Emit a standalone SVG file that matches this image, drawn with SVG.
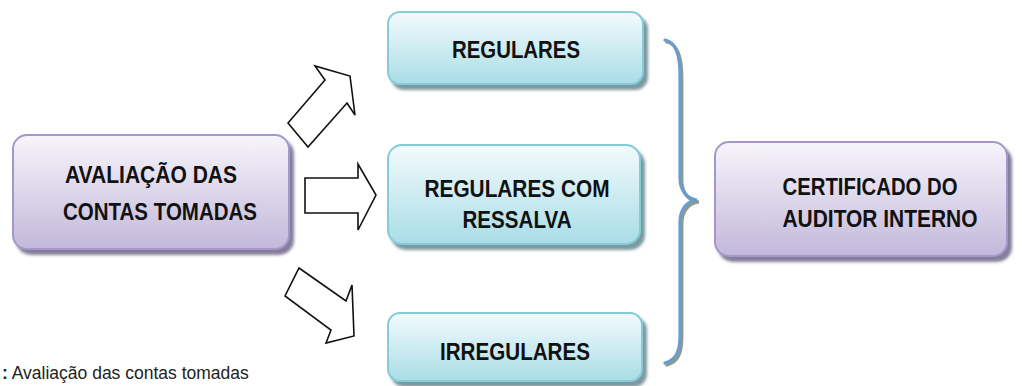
<svg xmlns="http://www.w3.org/2000/svg" width="1022" height="386" viewBox="0 0 1022 386">
<style>
.t{font-family:"Liberation Sans",Arial,sans-serif;font-weight:bold;font-size:24px;fill:#111;text-anchor:middle}
.purple{fill:url(#gp);stroke:#a597cc;stroke-width:2}
.blue{fill:url(#gb);stroke:#86cbd8;stroke-width:2}
.arrow{fill:#fff;stroke:#111;stroke-width:1.6;stroke-linejoin:miter}
.cap{font-family:"Liberation Sans",Arial,sans-serif;font-size:17.5px;fill:#222}
</style>
<defs>
<linearGradient id="gp" x1="0" y1="0" x2="0" y2="1">
<stop offset="0" stop-color="#f7f5fb"/>
<stop offset="1" stop-color="#c3b8da"/>
</linearGradient>
<linearGradient id="gb" x1="0" y1="0" x2="0" y2="1">
<stop offset="0" stop-color="#f3fbfd"/>
<stop offset="1" stop-color="#a9dde6"/>
</linearGradient>
<filter id="shp" x="-10%" y="-10%" width="125%" height="135%">
<feDropShadow dx="4" dy="5" stdDeviation="1.8" flood-color="#6f6888" flood-opacity="0.85"/>
</filter>
<filter id="shb" x="-10%" y="-10%" width="125%" height="135%">
<feDropShadow dx="4" dy="5" stdDeviation="1.8" flood-color="#5d7f88" flood-opacity="0.8"/>
</filter>
</defs>
<rect width="1022" height="386" fill="#fff"/>
<g id="connectors">
<polygon class="arrow" points="288,123 325,80 315,66 350,76 355,115 347,103 308,147"/>
<polygon class="arrow" points="305,178 358,178 358,164 376,195 358,230 358,213 305,213"/>
<polygon class="arrow" points="299,268 346,301 352,285 354,336 326,343 331,330 285,296"/>
<g id="brace" fill="none" stroke-width="3.2" stroke-linecap="round">
<path stroke="#8e9c86" transform="translate(1.8,2)" d="M665 40 C676 42 680 55 680 75 L680 178 C680 192 688 199 697 200 C688 201 680 208 680 222 L680 335 C680 352 676 360 665 363"/>
<path stroke="#6b9ccf" d="M665 40 C676 42 680 55 680 75 L680 178 C680 192 688 199 697 200 C688 201 680 208 680 222 L680 335 C680 352 676 360 665 363"/>
</g>
</g>
<g id="node-avaliacao">
<rect class="purple" filter="url(#shp)" x="13" y="135" width="276" height="114" rx="14"/>
<text class="t" x="151" y="183" textLength="172" lengthAdjust="spacingAndGlyphs">AVALIAÇÃO DAS</text>
<text class="t" x="160" y="220" textLength="194" lengthAdjust="spacingAndGlyphs">CONTAS TOMADAS</text>
</g>
<g id="node-regulares">
<rect class="blue" filter="url(#shb)" x="388" y="12" width="255" height="72" rx="12"/>
<text class="t" x="516" y="58" textLength="128" lengthAdjust="spacingAndGlyphs">REGULARES</text>
</g>
<g id="node-ressalva">
<rect class="blue" filter="url(#shb)" x="388" y="145" width="252" height="99" rx="14"/>
<text class="t" x="517" y="197" textLength="185" lengthAdjust="spacingAndGlyphs">REGULARES COM</text>
<text class="t" x="517" y="228" textLength="109" lengthAdjust="spacingAndGlyphs">RESSALVA</text>
</g>
<g id="node-irregulares">
<rect class="blue" filter="url(#shb)" x="388" y="313" width="254" height="68" rx="12"/>
<text class="t" x="515" y="360" textLength="150" lengthAdjust="spacingAndGlyphs">IRREGULARES</text>
</g>
<g id="node-certificado">
<rect class="purple" filter="url(#shp)" x="715" y="142" width="292" height="114" rx="14"/>
<text class="t" x="870" y="195" textLength="175" lengthAdjust="spacingAndGlyphs">CERTIFICADO DO</text>
<text class="t" x="880" y="227" textLength="195" lengthAdjust="spacingAndGlyphs">AUDITOR INTERNO</text>
</g>
<text class="cap" x="2" y="379"><tspan font-weight="bold">:</tspan> Avaliação das contas tomadas</text>
</svg>
